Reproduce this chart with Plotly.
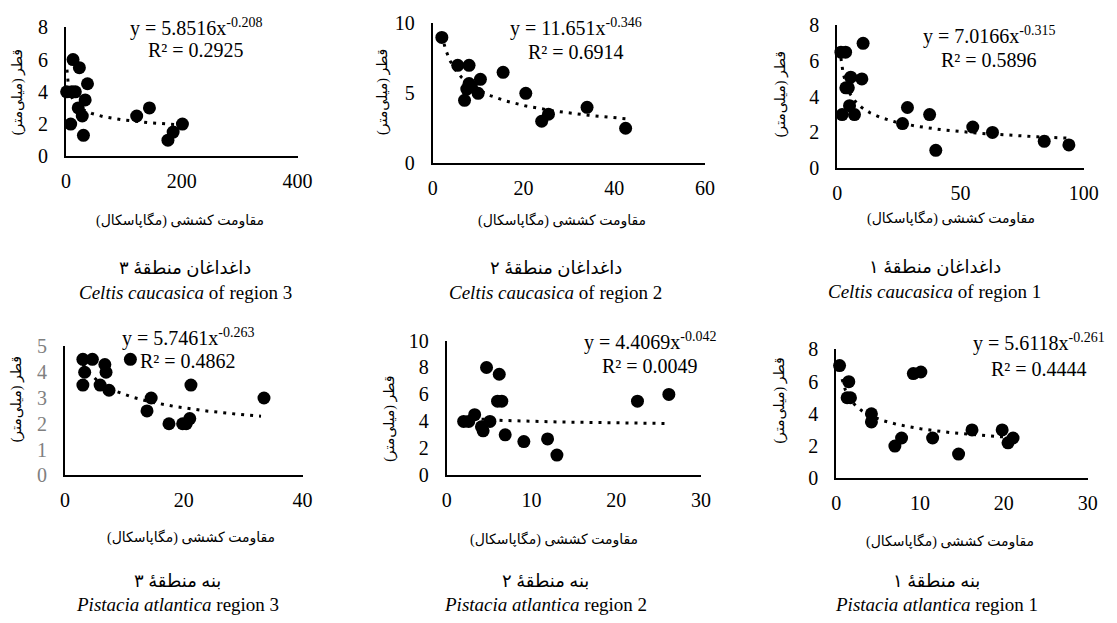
import numpy as np
import plotly.graph_objects as go

# page is 1117x623; the body keeps its default 8px margin, so the figure is 1101x607
W, H = 1101, 607
# measured placement of the paper area in the final picture (pixels)
PAPER_X0, PAPER_XW = 10.6, 1087.8
PAPER_Y0, PAPER_YH = 16.5, 590.4

# ---------------- data ----------------
# Celtis caucasica region 3 (top-left)
c3_x = [1, 10, 12, 16, 23, 8, 37, 33, 21, 28, 30, 122, 144, 176, 185, 201]
c3_y = [4, 4, 6, 4, 5.5, 2, 4.5, 3.5, 3, 2.5, 1.3, 2.5, 3, 1, 1.5, 2]
# Celtis caucasica region 2 (top-middle)
c2_x = [2, 5.5, 8, 7, 7.5, 8, 8.5, 10.5, 10, 15.5, 20.5, 24, 25.5, 34, 42.5]
c2_y = [9, 7, 7, 4.5, 5.3, 5.7, 5.5, 6, 5, 6.5, 5, 3, 3.5, 4, 2.5]
# Celtis caucasica region 1 (top-right)
c1_x = [1.5, 3.4, 2, 3.5, 4.5, 5.5, 5, 7, 10, 10.5, 26.5, 28.5, 37.5, 40, 55, 63, 84, 94]
c1_y = [6.5, 6.5, 3, 4.5, 4.5, 5.1, 3.5, 3, 5, 7, 2.5, 3.4, 3, 1, 2.3, 2, 1.5, 1.3]
# Pistacia atlantica region 3 (bottom-left)
p3_x = [3, 4.6, 3.3, 3, 6.7, 6.9, 5.9, 7.4, 11, 14.5, 13.8, 17.5, 19.8, 20.4, 21, 21.2, 33.5]
p3_y = [4.5, 4.5, 4, 3.5, 4.3, 4, 3.5, 3.3, 4.5, 3, 2.5, 2, 2, 2, 2.2, 3.5, 3]
# Pistacia atlantica region 2 (bottom-middle)
p2_x = [2, 2.6, 3.3, 4.3, 4.1, 4.7, 5.1, 6.2, 6, 6.5, 6.9, 9.1, 11.9, 13, 22.5, 26.2]
p2_y = [4, 4, 4.5, 3.3, 3.6, 8, 4, 7.5, 5.5, 5.5, 3, 2.5, 2.7, 1.5, 5.5, 6]
# Pistacia atlantica region 1 (bottom-right)
p1_x = [0.4, 1.5, 1.3, 1.7, 4.2, 4.2, 7, 7.8, 9.2, 10.1, 11.5, 14.6, 16.2, 19.8, 20.5, 21.1]
p1_y = [7, 6, 5, 5, 4, 3.5, 2, 2.5, 6.5, 6.6, 2.5, 1.5, 3, 3, 2.2, 2.5]

# power trend lines y = a * x^b (coefficients shown on chart)
trend_a = [5.8516, 11.651, 7.0166, 5.7461, 4.4069, 5.6118]
trend_b = ["-0.208", "-0.346", "-0.315", "-0.263", "-0.042", "-0.261"]
trend_r2 = ["0.2925", "0.6914", "0.5896", "0.4862", "0.0049", "0.4444"]
trend_xmin = [1.5, 2, 1.5, 3, 2, 0.7]
trend_xmax = [201, 42.5, 94, 33, 26, 21]

x_ranges = [[0, 400], [0, 60], [0, 100], [0, 40], [0, 30], [0, 30]]
x_ticks = [[0, 200, 400], [0, 20, 40, 60], [0, 50, 100], [0, 20, 40], [0, 10, 20, 30], [0, 10, 20, 30]]
y_ranges = [[0, 8], [0, 10], [0, 8], [0, 5], [0, 10], [0, 8]]
y_ticks = [[0, 2, 4, 6, 8], [0, 5, 10], [0, 2, 4, 6, 8], [0, 1, 2, 3, 4, 5], [0, 2, 4, 6, 8, 10], [0, 2, 4, 6, 8]]

xs = [c3_x, c2_x, c1_x, p3_x, p2_x, p1_x]
ys = [c3_y, c2_y, c1_y, p3_y, p2_y, p1_y]

x_title = "مقاومت کششی (مگاپاسکال)"
y_title = "قطر (میلی‌متر)"
cap_fa = ["داغداغان منطقهٔ ۳", "داغداغان منطقهٔ ۲", "داغداغان منطقهٔ ۱",
          "بنه منطقهٔ ۳", "بنه منطقهٔ ۲", "بنه منطقهٔ ۱"]
cap_en = ["<i>Celtis caucasica</i> of region 3", "<i>Celtis caucasica</i> of region 2",
          "<i>Celtis caucasica</i> of region 1",
          "<i>Pistacia atlantica</i> region 3", "<i>Pistacia atlantica</i> region 2",
          "<i>Pistacia atlantica</i> region 1"]

# ---------------- layout geometry (picture pixels) ----------------
areas = [(64, 297, 25, 155), (433, 707, 21, 162), (840, 1088, 23, 167),
         (63, 302, 347, 477), (447, 703, 341, 477), (839, 1092, 350, 480)]
ytitle_pos = [(15, 90), (383, 90), (783, 93), (15, 400), (390, 420), (782, 402)]
xtitle_pos = [(179, 220), (563, 220), (954, 218), (190, 540), (555, 542), (953, 544)]
eq_pos = [(195, 25, 48), (577, 25, 50), (993, 33, 58), (187, 338, 362), (652, 342, 367), (1043, 343, 370)]
cap_pos = [(184, 268, 293), (557, 268, 293), (938, 267, 292),
           (176, 584, 607), (546, 584, 607), (940, 584, 607)]

SERIF = "Liberation Serif, Times New Roman, DejaVu Serif"
FA = "Liberation Serif, DejaVu Sans"


def fx(px):
    return (px - PAPER_X0) / PAPER_XW


def fy(py):
    return 1 - (py - PAPER_Y0) / PAPER_YH


fig = go.Figure()
annotations = []
for i in range(6):
    k = "" if i == 0 else str(i + 1)
    xa, ya = "x" + k, "y" + k
    fig.add_trace(go.Scatter(x=xs[i], y=ys[i], mode="markers", xaxis=xa, yaxis=ya,
                             marker=dict(color="black", size=13), cliponaxis=False,
                             showlegend=False))
    tx = np.geomspace(trend_xmin[i], trend_xmax[i], 200)
    ty = trend_a[i] * tx ** float(trend_b[i])
    fig.add_trace(go.Scatter(x=tx, y=ty, mode="lines", xaxis=xa, yaxis=ya,
                             line=dict(color="black", width=3, dash="3px,6px"),
                             showlegend=False, cliponaxis=False))
    l, r, t, b = areas[i]
    tickcol = "#808080" if i == 3 else "black"
    fig.layout["xaxis" + k] = dict(domain=[fx(l), fx(r)], range=x_ranges[i], tickvals=x_ticks[i],
                                   anchor=ya, showline=True, linecolor="black", linewidth=2,
                                   showgrid=False, zeroline=False, ticks="",
                                   ticklabelstandoff=6,
                                   tickfont=dict(family=SERIF, size=20, color="black"))
    fig.layout["yaxis" + k] = dict(domain=[fy(b), fy(t)], range=y_ranges[i], tickvals=y_ticks[i],
                                   anchor=xa, showline=True, linecolor="black", linewidth=2,
                                   showgrid=False, zeroline=False, ticks="",
                                   ticklabelstandoff=12,
                                   tickfont=dict(family=SERIF, size=20, color=tickcol))
    yx, yy = ytitle_pos[i]
    annotations.append(dict(x=fx(yx), y=fy(yy), xref="paper", yref="paper", text=y_title,
                            textangle=-90, showarrow=False, xanchor="center", yanchor="middle",
                            font=dict(family=FA, size=14, color="black")))
    xx, xy = xtitle_pos[i]
    annotations.append(dict(x=fx(xx), y=fy(xy), xref="paper", yref="paper", text=x_title,
                            showarrow=False, xanchor="center", yanchor="middle",
                            font=dict(family=FA, size=14, color="black")))
    ex, e1, e2 = eq_pos[i]
    annotations.append(dict(x=fx(ex), y=fy(e1), xref="paper", yref="paper",
                            text="y = %sx<sup>%s</sup>" % (trend_a[i], trend_b[i]),
                            showarrow=False, xanchor="center", yanchor="middle",
                            font=dict(family=SERIF, size=20, color="black")))
    annotations.append(dict(x=fx(ex), y=fy(e2), xref="paper", yref="paper",
                            text="R² = " + trend_r2[i],
                            showarrow=False, xanchor="center", yanchor="middle",
                            font=dict(family=SERIF, size=20, color="black")))
    cx, c1, c2 = cap_pos[i]
    annotations.append(dict(x=fx(cx), y=fy(c1), xref="paper", yref="paper", text=cap_fa[i],
                            showarrow=False, xanchor="center", yanchor="middle",
                            font=dict(family=FA, size=18, color="black")))
    annotations.append(dict(x=fx(cx), y=fy(c2), xref="paper", yref="paper", text=cap_en[i],
                            showarrow=False, xanchor="center", yanchor="middle",
                            font=dict(family=SERIF, size=19, color="black")))

fig.update_layout(width=W, height=H, margin=dict(l=0, r=0, t=0, b=0),
                  paper_bgcolor="white", plot_bgcolor="white",
                  annotations=annotations, showlegend=False)
fig.write_html("out.html", config={"displayModeBar": False})
